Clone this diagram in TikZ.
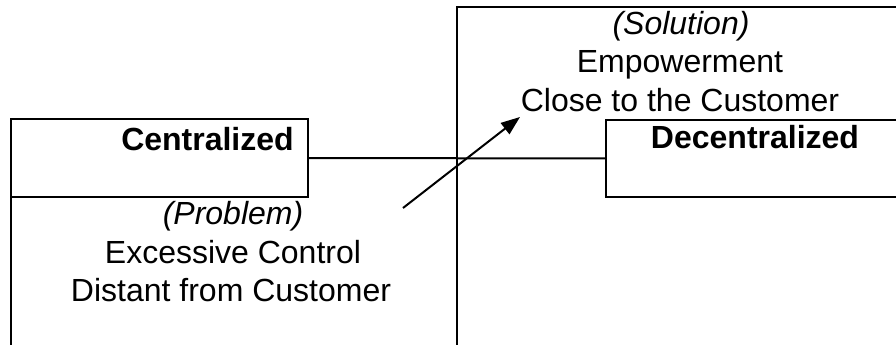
\documentclass[tikz,border=0pt]{standalone}
\usepackage{fontspec}
\setmainfont{Liberation Sans}
\usetikzlibrary{arrows.meta}
\tikzset{
  frame/.style={draw=black, line width=2pt},
  boxnode/.style={draw=black, line width=2pt, rectangle, inner sep=0pt, outer sep=0pt},
  txt/.style={inner sep=0pt, anchor=base, font=\fontsize{32}{38}\selectfont},
  btxt/.style={txt, font=\fontsize{32}{38}\selectfont\bfseries},
  itxt/.style={txt, font=\fontsize{32}{38}\selectfont\itshape},
  pointer/.style={line width=2pt, -{Triangle[length=19pt,width=14pt]}}
}
\begin{document}
\begin{tikzpicture}[x=1pt, y=-1pt]
\useasboundingbox (0,0) rectangle (896,345);
\clip (0,0) rectangle (896,345);
% right region outline
\coordinate (rtr) at (900,7);
\coordinate (rtl) at (457,7);
\coordinate (rbl) at (457,349);
\draw[frame] (rtr) -- (rtl) -- (rbl);
% left box
\node[boxnode, minimum width=297pt, minimum height=78pt, anchor=north west] (cbox) at (11,119) {};
\coordinate (lbl) at (11,349);
\draw[frame] (cbox.south west) -- (lbl);
% right box (extends beyond the right edge)
\node[boxnode, minimum width=320pt, minimum height=77pt, anchor=north west] (dbox) at (606,120) {};
% connector
\draw[frame] (cbox.east) -- (dbox.west);
% labels
\node[btxt] (ctitle) at (207.5,150) {Centralized};
\node[btxt] (dtitle) at (755,148) {Decentralized};
\node[itxt] (prob1) at (233,224) {(Problem)};
\node[txt] (prob2) at (233,263) {Excessive Control};
\node[txt] (prob3) at (231,301) {Distant from Customer};
\node[itxt] (sol1) at (681,35) {(Solution)};
\node[txt] (sol2) at (680,73) {Empowerment};
\node[txt] (sol3) at (680,111) {Close to the Customer};
% arrow
\coordinate (as) at (403,208);
\coordinate (ae) at (520,117);
\draw[pointer] (as) -- (ae);
\end{tikzpicture}
\end{document}
